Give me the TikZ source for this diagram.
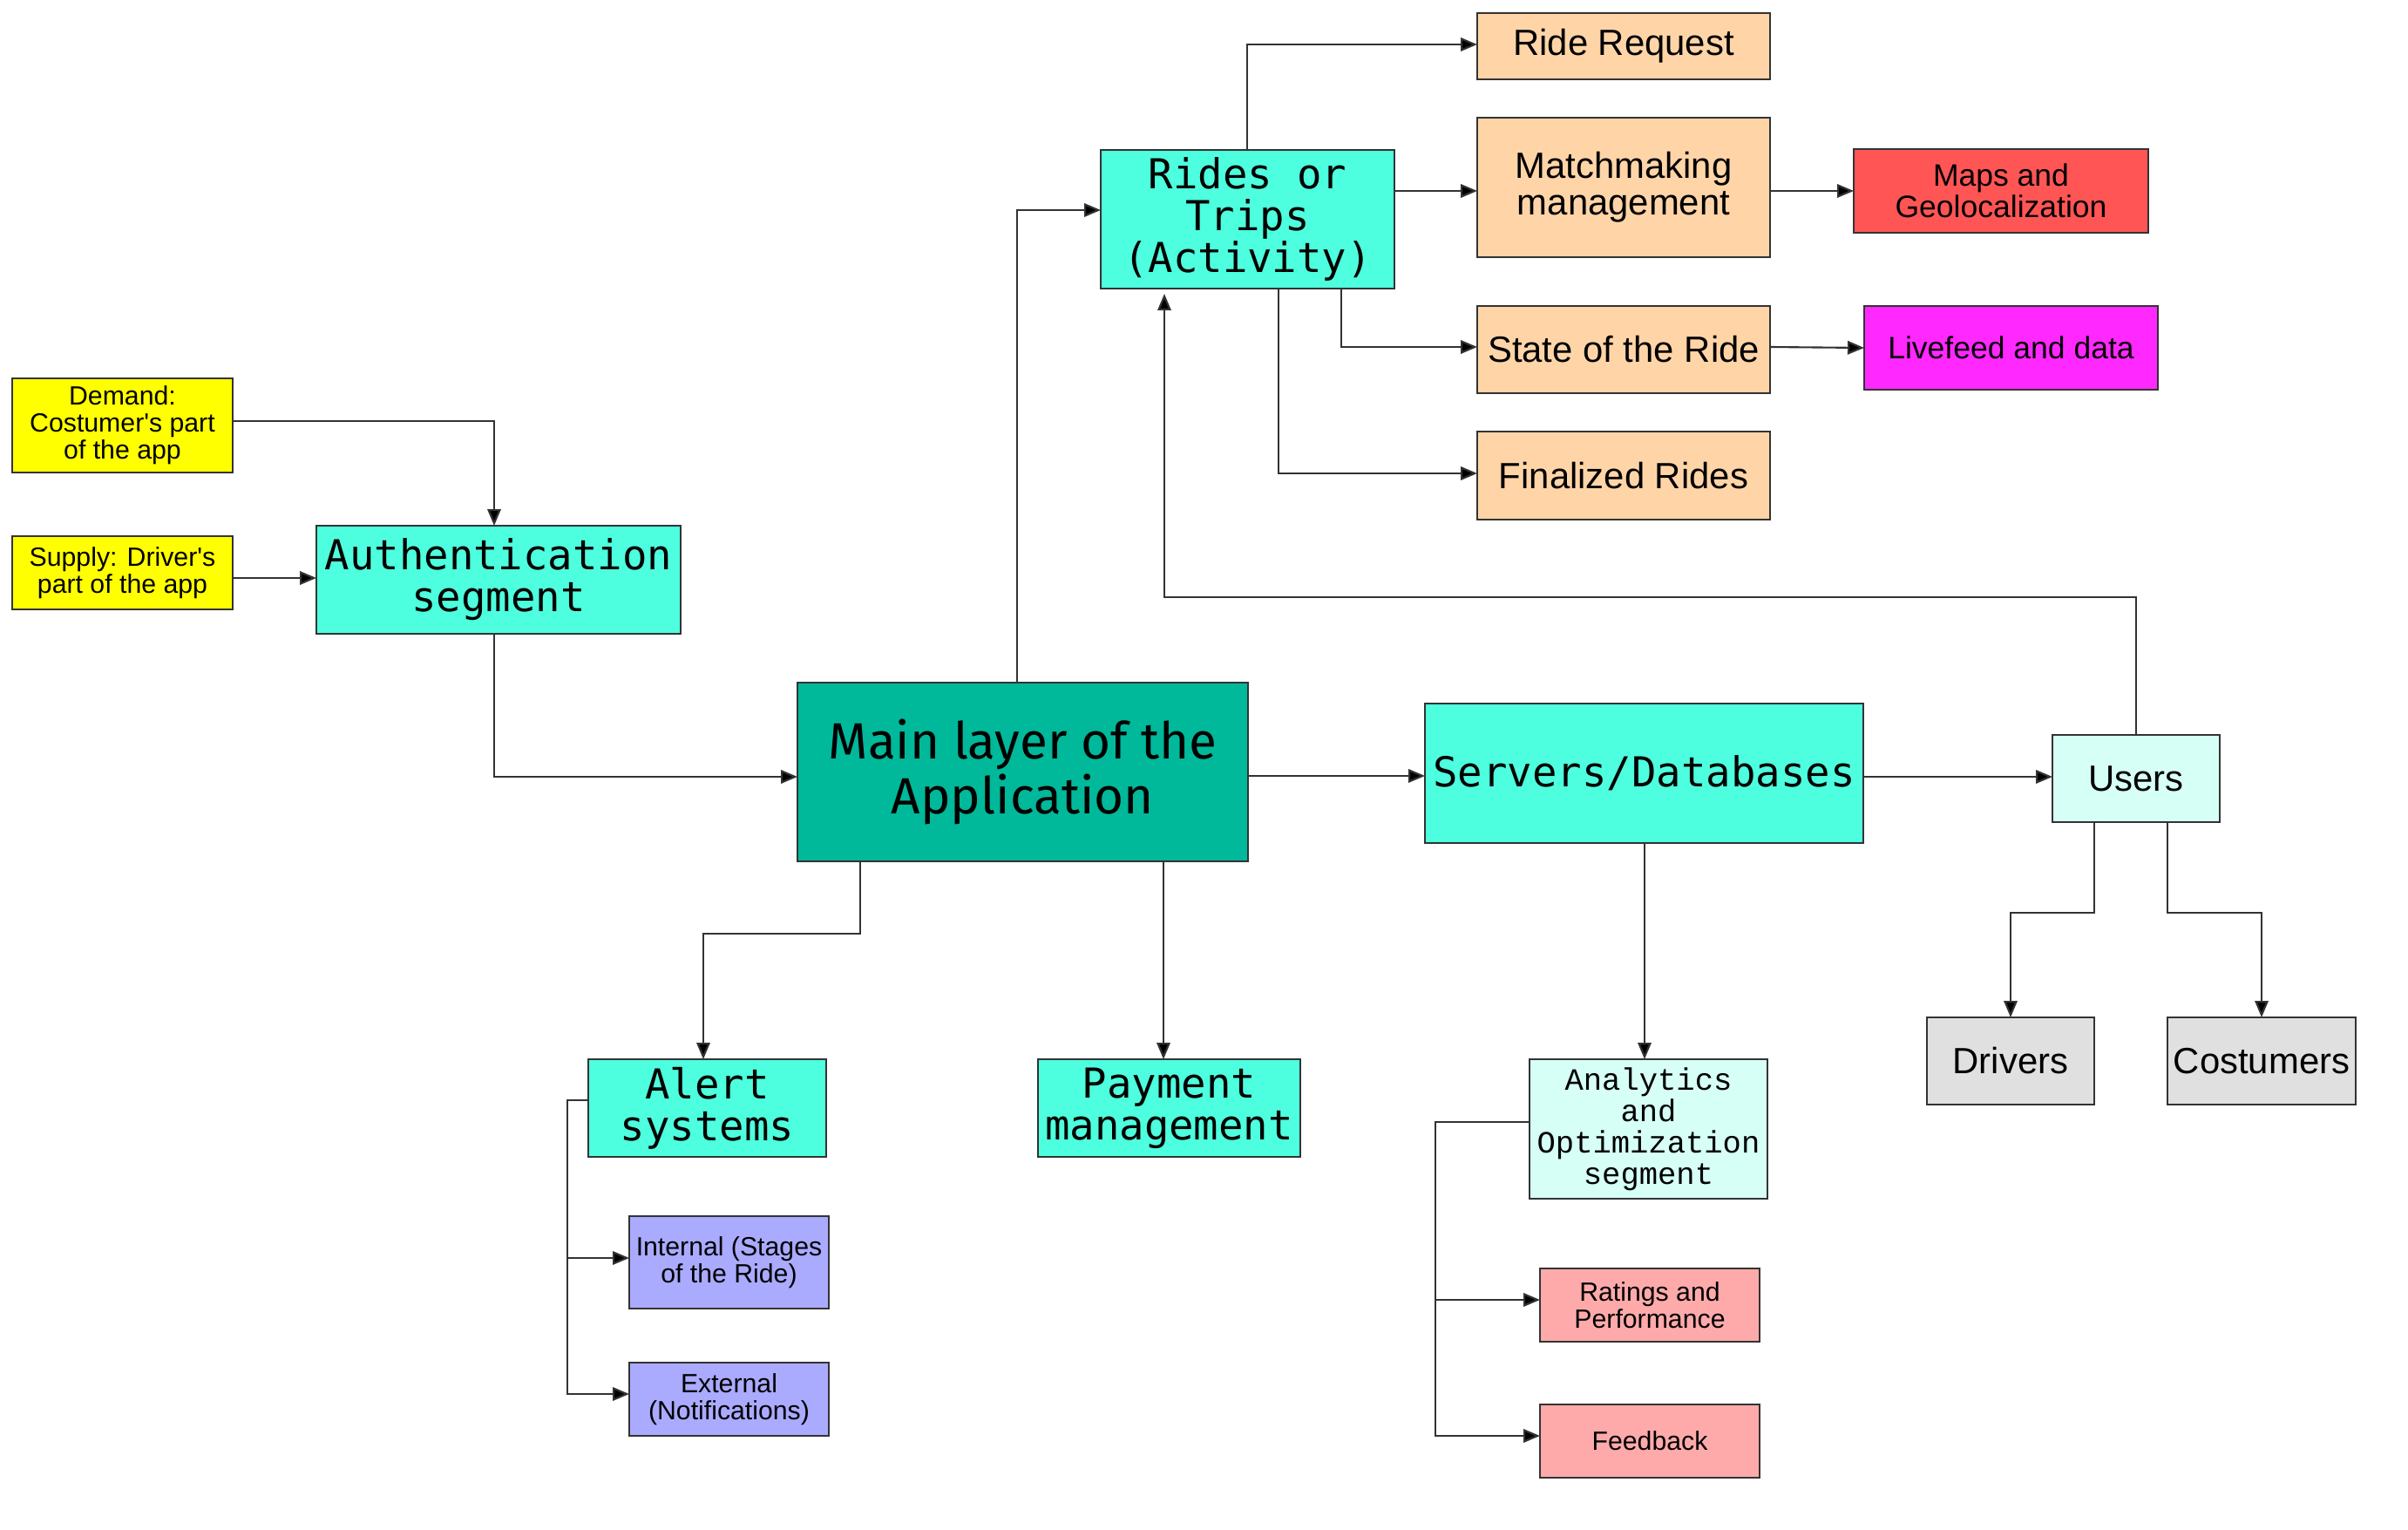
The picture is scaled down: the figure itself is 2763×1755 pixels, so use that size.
\documentclass[tikz,border=0pt]{standalone}
\usepackage{fontspec}
\setmainfont{Liberation Sans}
\newfontfamily\dmono{DejaVu Sans Mono}
\newfontfamily\lmono{Liberation Mono}
\newfontfamily\fira{Fira Sans}
\usetikzlibrary{arrows.meta}
\definecolor{cyanbox}{RGB}{77,255,222}
\definecolor{mainbox}{RGB}{0,184,154}
\definecolor{peach}{RGB}{255,213,168}
\definecolor{redbox}{RGB}{255,85,85}
\definecolor{magbox}{RGB}{255,40,255}
\definecolor{lightbox}{RGB}{214,255,246}
\definecolor{graybox}{RGB}{224,224,224}
\definecolor{purplebox}{RGB}{170,170,255}
\definecolor{pinkbox}{RGB}{255,170,170}
\definecolor{yelbox}{RGB}{255,255,0}
\definecolor{edge}{RGB}{51,51,51}
\newcommand\bx[7]{\node[#6, minimum width={(#4-#2)*0.01cm}, minimum height={(#5-#3)*0.01cm}] (#1) at ({(#2+#4)/2},{(#3+#5)/2}) {#7};}
\newcommand\apos{\textquotesingle}
\tikzset{
  box/.style={draw=edge, line width=0.6pt, rectangle, inner sep=0pt, outer sep=0pt, align=center, text=black},
  bigtxt/.style={font=\fontsize{11.9}{12}\selectfont},
  midtxt/.style={font=\fontsize{10.1}{10.1}\selectfont},
  smtxt/.style={font=\fontsize{8.6}{8.8}\selectfont},
  monotxt/.style={font=\dmono\fontsize{13.45}{13.7}\selectfont},
  arr/.style={draw=edge, line width=0.6pt, -{Triangle[length=5.4pt,width=4.4pt,fill=black]}},
  ln/.style={draw=edge, line width=0.6pt}
}
\begin{document}
\begin{tikzpicture}[x=0.01cm,y=-0.01cm]
\fill[white] (0,0) rectangle (2763,1755);
\useasboundingbox (0,0) rectangle (2763,1755);

% boxes
\bx{demand}{14}{434}{267}{542}{box,fill=yelbox,smtxt}{Demand:\\Costumer\apos s part\\of the app}
\bx{supply}{14}{615}{267}{699}{box,fill=yelbox,smtxt}{Supply: Driver\apos s\\part of the app}
\bx{auth}{363}{603}{781}{727}{box,fill=cyanbox,monotxt}{Authentication\\segment}
\bx{main}{915}{783}{1432}{988}{box,fill=mainbox,font=\fira\fontsize{16.6}{17.9}\selectfont}{Main layer of the\\Application}
\bx{rides}{1263}{172}{1600}{331}{box,fill=cyanbox,monotxt}{Rides or\\Trips\\(Activity)}
\bx{rreq}{1695}{15}{2031}{91}{box,fill=peach,bigtxt}{Ride Request}
\bx{match}{1695}{135}{2031}{295}{box,fill=peach,bigtxt}{Matchmaking\\management}
\bx{maps}{2127}{171}{2465}{267}{box,fill=redbox,midtxt}{Maps and\\Geolocalization}
\bx{state}{1695}{351}{2031}{451}{box,fill=peach,bigtxt}{State of the Ride}
\bx{live}{2139}{351}{2476}{447}{box,fill=magbox,midtxt}{Livefeed and data}
\bx{final}{1695}{495}{2031}{596}{box,fill=peach,bigtxt}{Finalized Rides}
\bx{servers}{1635}{807}{2138}{967}{box,fill=cyanbox,monotxt}{Servers/Databases}
\bx{users}{2355}{843}{2547}{943}{box,fill=lightbox,bigtxt}{Users}
\bx{drivers}{2211}{1167}{2403}{1267}{box,fill=graybox,bigtxt}{Drivers}
\bx{cost}{2487}{1167}{2703}{1267}{box,fill=graybox,bigtxt}{Costumers}
\bx{alert}{675}{1215}{948}{1327}{box,fill=cyanbox,monotxt}{Alert\\systems}
\bx{payment}{1191}{1215}{1492}{1327}{box,fill=cyanbox,monotxt}{Payment\\management}
\bx{internal}{722}{1395}{951}{1501}{box,fill=purplebox,smtxt}{Internal (Stages\\of the Ride)}
\bx{external}{722}{1563}{951}{1647}{box,fill=purplebox,smtxt}{External\\(Notifications)}
\bx{analytics}{1755}{1215}{2028}{1375}{box,fill=lightbox,font=\lmono\fontsize{10.1}{10.25}\selectfont}{Analytics\\and\\Optimization\\segment}
\bx{ratings}{1767}{1455}{2019}{1539}{box,fill=pinkbox,smtxt}{Ratings and\\Performance}
\bx{feedback}{1767}{1611}{2019}{1695}{box,fill=pinkbox,smtxt}{Feedback}

% connectors
\draw[arr] (demand.east |- 0,483) -| (auth.north -| 567,0);
\draw[arr] (supply.east |- 0,663) -- (auth.west |- 0,663);
\draw[arr] (auth.south -| 567,0) |- (main.west |- 0,891);
\draw[arr] (main.north -| 1167,0) |- (rides.west |- 0,241);
\draw[arr] (main.east |- 0,890) -- (servers.west |- 0,890);
\draw[arr] (main.south -| 987,0) -- (987,1071) -| (alert.north -| 807,0);
\draw[arr] (main.south -| 1335,0) -- (payment.north -| 1335,0);
\draw[arr] (rides.north -| 1431,0) |- (rreq.west |- 0,51);
\draw[arr] (rides.east |- 0,219) -- (match.west |- 0,219);
\draw[arr] (match.east |- 0,219) -- (maps.west |- 0,219);
\draw[arr] (rides.south -| 1539,0) |- (state.west |- 0,398);
\draw[arr] (rides.south -| 1467,0) |- (final.west |- 0,543);
\draw[arr] (state.east |- 0,398) -- (live.west |- 0,399);
\draw[arr] (servers.east |- 0,891) -- (users.west |- 0,891);
\draw[arr] (users.north -| 2451,0) -- (2451,685) -| ([yshift=-0.06cm]rides.south -| 1336,0);
\draw[arr] (users.south -| 2403,0) -- (2403,1047) -| (drivers.north -| 2307,0);
\draw[arr] (users.south -| 2487,0) -- (2487,1047) -| (cost.north -| 2595,0);
\draw[arr] (servers.south -| 1887,0) -- (analytics.north -| 1887,0);
\draw[arr] (analytics.west |- 0,1287) -- (1647,1287) |- (ratings.west |- 0,1491);
\draw[arr] (1647,1287) |- (feedback.west |- 0,1647);
\draw[arr] (alert.west |- 0,1262) -- (651,1262) |- (internal.west |- 0,1443);
\draw[arr] (651,1262) |- (external.west |- 0,1599);
\end{tikzpicture}
\end{document}
